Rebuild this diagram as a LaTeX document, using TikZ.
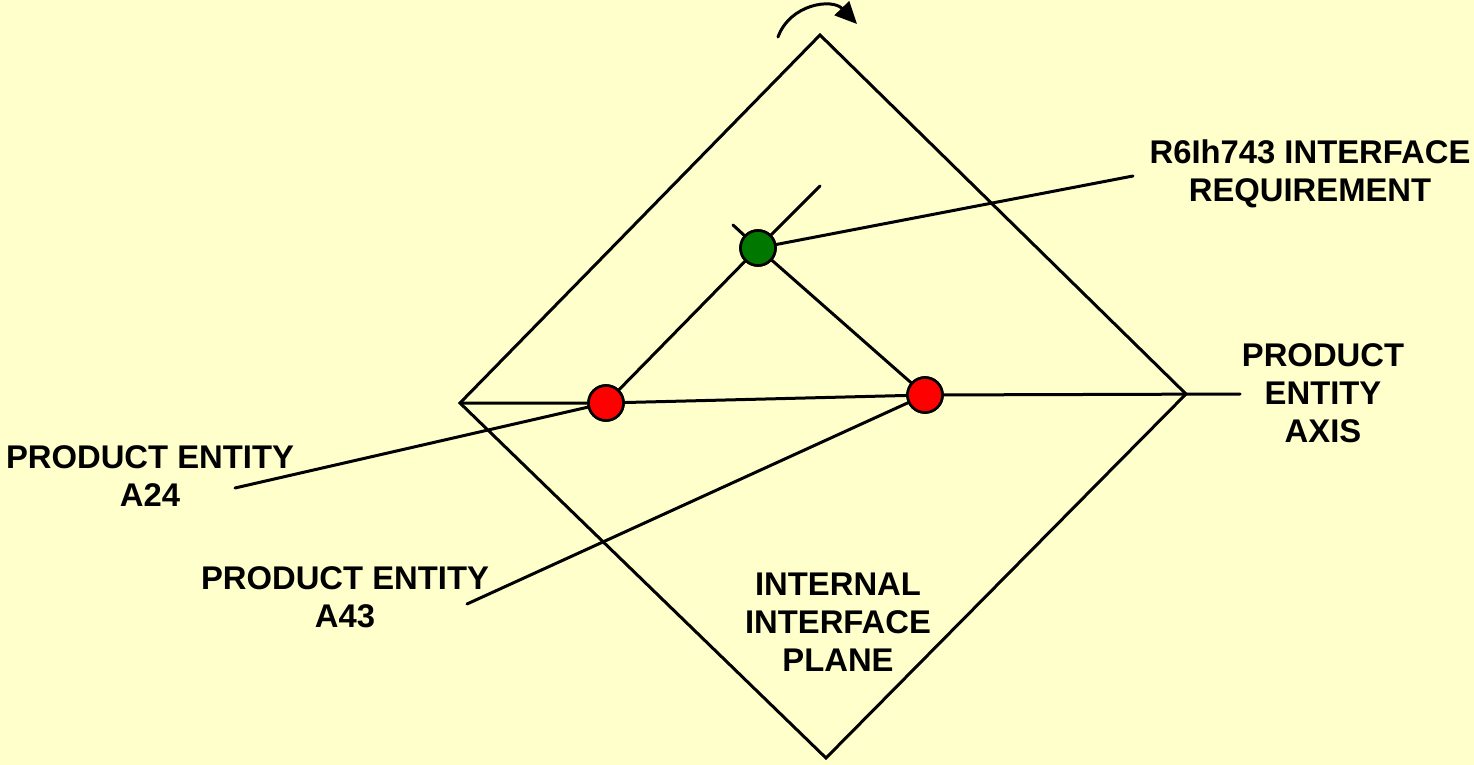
\documentclass[tikz,border=0pt]{standalone}
\usepackage{fontspec}
\setmainfont{Liberation Sans}
\usetikzlibrary{arrows.meta}
\definecolor{bgyellow}{HTML}{FFFFCC}
\definecolor{dotred}{HTML}{FF0000}
\definecolor{dotgreen}{HTML}{007800}
\tikzset{
  ln/.style={line width=1.5pt, line cap=round, line join=miter},
  dot/.style={circle, draw=black, line width=1.3pt, minimum size=17.5pt, inner sep=0pt},
  lbl/.style={align=center, inner sep=0pt, font=\bfseries\fontsize{16.4}{19}\selectfont}
}
\begin{document}
\begin{tikzpicture}[x=0.5pt,y=-0.5pt]
\fill[bgyellow] (0,0) rectangle (1474,765);
\useasboundingbox (0,0) rectangle (1474,765);
% diamond vertices
\coordinate (T) at (820,35);
\coordinate (R) at (1186,394);
\coordinate (B) at (826,758);
\coordinate (L) at (460,403);
\coordinate (axisEnd) at (1240,394);
\coordinate (stubA) at (820,186);
\coordinate (stubB) at (733,225);
\coordinate (reqEnd) at (1133,176);
\coordinate (a24End) at (235,488);
\coordinate (a43End) at (467,604);
\coordinate (arrS) at (778,37);
\coordinate (arrE) at (857,24);
% dots
\node[dot, fill=dotred] (r1) at (606,403) {};
\node[dot, fill=dotred] (r2) at (925,395) {};
\node[dot, fill=dotgreen] (g) at (758,248) {};
% diamond
\draw[ln] (T) -- (R) -- (B) -- (L) -- cycle;
% axis
\draw[ln] (L) -- (r1) -- (r2) -- (axisEnd);
% internal lines
\draw[ln] (r1) -- (g) -- (stubA);
\draw[ln] (stubB) -- (g) -- (r2);
\draw[ln] (g) -- (reqEnd);
\draw[ln] (r1) -- (a24End);
\draw[ln] (r2) -- (a43End);
% redraw dots on top
\node[dot, fill=dotred] at (r1) {};
\node[dot, fill=dotred] at (r2) {};
\node[dot, fill=dotgreen] at (g) {};
% top rotation arrow
\draw[ln, -{Triangle[length=11pt,width=10pt]}] (arrS) .. controls (790,4) and (832,-2) .. (arrE);
% labels
\node[lbl] (req) at (1310,174) {R6Ih743 INTERFACE\\REQUIREMENT};
\node[lbl] (axis) at (1323,393) {PRODUCT\\ENTITY\\AXIS};
\node[lbl] (a24) at (150,476) {PRODUCT ENTITY\\A24};
\node[lbl] (a43) at (345,597) {PRODUCT ENTITY\\A43};
\node[lbl] (plane) at (838,622) {INTERNAL\\INTERFACE\\PLANE};
\end{tikzpicture}
\end{document}
